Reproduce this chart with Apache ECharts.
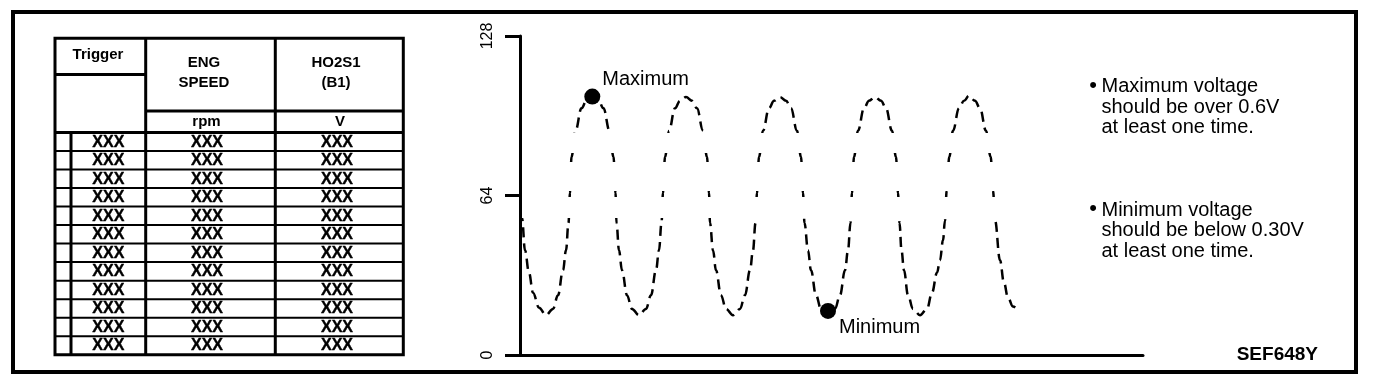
<!DOCTYPE html>
<html><head><meta charset="utf-8">
<script src="https://cdn.jsdelivr.net/npm/echarts@6/dist/echarts.min.js"></script>
<style>html,body{margin:0;padding:0;background:#fff}#c{width:1392px;height:382px}</style>
</head><body><div id="c"></div>
<script>
// ---- data ----
const timeS = [0,0.02,0.05,0.09,0.13,0.19,0.26,0.33,0.38,0.43,0.46,0.485,0.50,
  0.515,0.555,0.615,0.665,0.725,0.785,0.835,0.895,0.935,0.955,
  0.965,0.99,1.02,1.07,1.12,1.19,1.26,1.31,1.36,1.39,1.415,1.43,
  1.45,1.49,1.55,1.60,1.66,1.72,1.77,1.83,1.87,1.89,
  1.90,1.93,1.96,2.01,2.06,2.13,2.20,2.25,2.30,2.33,2.355,2.37,
  2.39,2.43,2.49,2.54,2.60,2.66,2.71,2.77,2.81,2.83,
  2.845,2.88,2.91,2.96,3.01,3.08,3.15,3.20,3.25,3.28,3.305,3.32,
  3.34,3.38,3.44,3.49,3.55,3.61,3.66,3.72,3.76,3.78,
  3.795,3.815,3.84,3.88,3.93,4.00,4.07,4.12,4.17,4.20,4.23,4.25,4.267,
  4.293,4.33,4.39,4.44,4.49,4.55,4.60,4.66,4.707,4.73,4.75,4.80,4.84,4.88,4.93,4.98];
const sensorCounts = [64,55,42,33,25,19,16,18.5,24,34,42,53,65,
  79.5,90,99,102,103.5,102,99,90,79.5,65,
  53,42,34,24,18.5,16,18.5,24,34,42,53,65,
  79.5,90,99,102,103.5,102,99,90,79.5,65,
  53,42,34,24,18.5,16,18.5,24,34,42,53,65,
  79.5,90,99,102,103.5,102,99,90,79.5,65,
  53,42,34,24,18.5,16,18.5,24,34,42,53,65,
  79.5,90,99,102,103.5,102,99,90,79.5,65,
  53,42,34,24,18.5,16,18.5,25,33,38,46,54,66,
  79.5,90,99,102,104,102,99,90,79.5,66,54,38,29,23,19.5,18];
const yTicks = [0, 64, 128];
const xRange = [0, 6.23];
const markerNames = ['Maximum', 'Minimum'];
const markerTimes = [0.723, 3.08];
const markerCounts = [103.7, 17.7];
const tableHeaders = ['Trigger', 'ENG\nSPEED', 'HO2S1\n(B1)'];
const tableUnits = ['', 'rpm', 'V'];
const tableCell = 'XXX';
const tableRowCount = 12;
const noteMax = ['Maximum voltage', 'should be over 0.6V', 'at least one time.'];
const noteMin = ['Minimum voltage', 'should be below 0.30V', 'at least one time.'];
const figureId = 'SEF648Y';

// ---- build ----
const FONT = "'Liberation Sans', Arial, Helvetica, sans-serif";
const wave = timeS.map((t, i) => [t, sensorCounts[i]]);
const labelPos = [[18, -9], [19, 25]];
const markers = markerNames.map((n, i) => ({ name: n, value: [markerTimes[i], markerCounts[i]],
  label: { position: labelPos[i] } }));

const g = [];
const line = (x1, y1, x2, y2, w) => g.push({ type: 'line', silent: true,
  shape: { x1, y1, x2, y2 }, style: { stroke: '#000', lineWidth: w } });
const text = (s, x, y, size, weight, align, extra) => g.push({ type: 'text', silent: true,
  style: Object.assign({ text: s, x, y, fill: '#000', align: align || 'center', verticalAlign: 'middle',
    font: (weight || 'normal') + ' ' + size + 'px ' + FONT }, extra || {}) });

// outer frame
g.push({ type: 'rect', silent: true, shape: { x: 13, y: 12, width: 1343, height: 360 },
  style: { fill: 'none', stroke: '#000', lineWidth: 4 } });

// table
const tL = 55, tR = 403.3, tT = 38.3, tB = 354.7;
const c1 = 145.7, c2 = 275.3, cN = 71;
const hTrig = 74.5, hMid = 111, hBody = 132.5, rowH = (tB - hBody) / tableRowCount;
g.push({ type: 'rect', silent: true, shape: { x: tL, y: tT, width: tR - tL, height: tB - tT },
  style: { fill: 'none', stroke: '#000', lineWidth: 3 } });
line(c1, tT, c1, tB, 3);
line(c2, tT, c2, tB, 3);
line(cN, hBody, cN, tB, 3);
line(tL, hTrig, c1, hTrig, 3);
line(c1, hMid, tR, hMid, 3);
line(tL, hBody, tR, hBody, 3);
for (let k = 1; k < tableRowCount; k++) line(tL, hBody + rowH * k, tR, hBody + rowH * k, 2);
const colCx = [108.3, 207, 337];
text(tableHeaders[0], 98, 55, 15, 'bold');
text(tableHeaders[1], 204, 72.5, 15, 'bold', 'center', { lineHeight: 20 });
text(tableHeaders[2], 336, 72.5, 15, 'bold', 'center', { lineHeight: 20 });
text(tableUnits[1], 206.5, 121.5, 15, 'bold');
text(tableUnits[2], 340, 121.5, 15, 'bold');
for (let k = 0; k < tableRowCount; k++) {
  for (let c = 0; c < 3; c++) text(tableCell, colCx[c], hBody + rowH * (k + 0.5) + 0.5, 16, 'bold',
    'center', { stroke: '#000', lineWidth: 0.4 });
}

// notes
[[noteMax, 86.6], [noteMin, 210.3]].forEach(([lines, y0]) => {
  text('\u2022', 1093, y0 - 1, 22, 'normal');
  lines.forEach((s, i) => text(s, 1101.5, y0 + i * 20.6, 20, 'normal', 'left'));
});
text(figureId, 1318, 355, 19, 'bold', 'right');

const chart = echarts.init(document.getElementById('c'), null, { renderer: 'canvas' });
chart.setOption({
  animation: false,
  backgroundColor: '#fff',
  grid: { left: 520, right: 249, top: 36, bottom: 27, containLabel: false },
  xAxis: { type: 'value', min: xRange[0], max: xRange[1],
    axisLine: { show: true, onZero: true, lineStyle: { color: '#000', width: 3 } },
    axisTick: { show: false }, axisLabel: { show: false }, splitLine: { show: false } },
  yAxis: { type: 'value', min: yTicks[0], max: yTicks[yTicks.length - 1], interval: yTicks[1] - yTicks[0],
    axisLine: { show: true, lineStyle: { color: '#000', width: 3 } },
    axisTick: { show: true, length: 15, lineStyle: { color: '#000', width: 3 } },
    axisLabel: { rotate: 90, margin: 24, color: '#000', fontSize: 16, fontFamily: FONT },
    splitLine: { show: false } },
  visualMap: [
    { show: false, type: 'piecewise', seriesIndex: 0, dimension: 1,
      pieces: [{ lt: 55, color: '#000' }, { gte: 55, lt: 89, color: 'rgba(0,0,0,0)' }, { gte: 89, color: '#000' }] },
    { show: false, type: 'piecewise', seriesIndex: 1, dimension: 1,
      pieces: [{ gte: 63.5, lt: 66, color: '#000' }, { gte: 77.5, lt: 81, color: '#000' }],
      outOfRange: { color: 'rgba(0,0,0,0)' } }
  ],
  series: [
    { type: 'line', data: wave, smooth: 0.4, smoothMonotone: 'x', showSymbol: false, silent: true,
      lineStyle: { width: 2.5, type: [10, 6] } },
    { type: 'line', data: wave, smooth: 0.4, smoothMonotone: 'x', showSymbol: false, silent: true,
      lineStyle: { width: 2.5, type: 'solid' } },
    { type: 'scatter', data: markers, symbolSize: 16, itemStyle: { color: '#000', opacity: 1 }, z: 5, silent: true,
      label: { show: true, formatter: p => p.name, color: '#000', fontSize: 20, fontFamily: FONT,
        align: 'left', verticalAlign: 'middle' } }
  ],
  graphic: g
});
</script></body></html>
